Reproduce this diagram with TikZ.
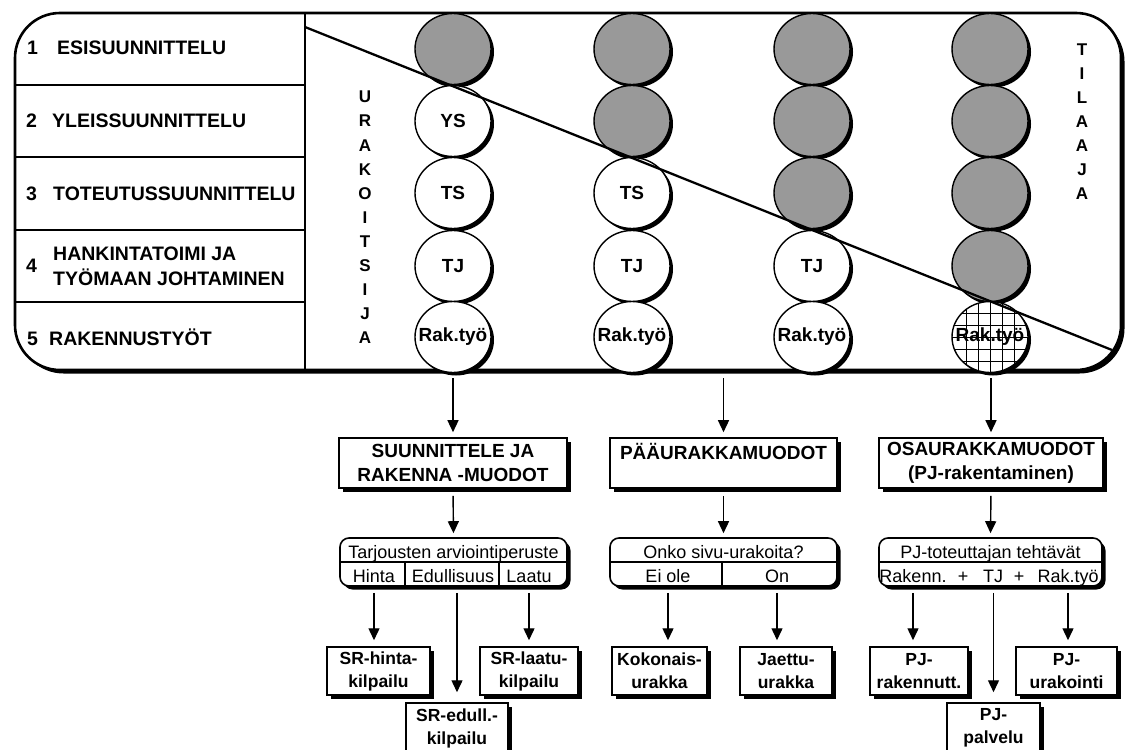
\documentclass[tikz,border=0pt]{standalone}
\usepackage{fontspec}
\setmainfont{Liberation Sans}
\usetikzlibrary{shapes.geometric,shadows,arrows.meta}
\begin{document}
\begin{tikzpicture}[x=1pt,y=-1pt,
 shad/.style={drop shadow={shadow xshift=3.5pt,shadow yshift=-3.5pt,opacity=1,fill=black}},
 eshad/.style={drop shadow={shadow xshift=3pt,shadow yshift=-3pt,opacity=1,fill=black}},
 ell/.style={ellipse,draw,line width=1.4pt,minimum width=76pt,minimum height=71pt,inner sep=0pt,eshad,font=\fontsize{19}{24}\selectfont\bfseries},
 gell/.style={ell,fill=black!40},
 well/.style={ell,fill=white},
 arr/.style={line width=1.4pt,-{Triangle[width=11pt,length=12pt]}},
 hbox/.style={draw,line width=1.6pt,fill=white,shad,align=center,inner sep=0pt,minimum height=50pt,font=\fontsize{19}{24}\selectfont\bfseries},
 sbox/.style={draw,line width=1.6pt,fill=white,shad,rounded corners=9pt,inner sep=0pt,minimum height=48pt},
 lbox/.style={draw,line width=1.5pt,fill=white,shad,align=center,inner sep=0pt,minimum height=48pt,font=\fontsize{17.5}{23}\selectfont\bfseries},
 stx/.style={anchor=base,inner sep=0pt,font=\fontsize{18}{22}\selectfont},
 rowtx/.style={anchor=base west,inner sep=0pt,font=\fontsize{19.5}{25}\selectfont\bfseries},
 vtx/.style={align=center,inner sep=0pt,font=\fontsize{17}{24.1}\selectfont\bfseries},
 tline/.style={line width=1.6pt},
]
\useasboundingbox (0,0) rectangle (1131,749);
\clip (0,0) rectangle (1131,749);
\fill[white] (0,0) rectangle (1131,749);

% outer frame
\node[draw,line width=2.6pt,fill=white,rounded corners=45pt,minimum width=1106pt,minimum height=357pt,inner sep=0pt,
  drop shadow={shadow xshift=3.5pt,shadow yshift=-3.5pt,opacity=1,fill=black}] (outer) at (568,191.5) {};

% table
\coordinate (vt) at (305,13);
\coordinate (vb) at (305,370);
\draw[tline] (vt) -- (vb);
\foreach \y in {85,157,230,302} \draw[tline] (15,\y) -- (305,\y);

\node[rowtx] (n1) at (27,55) {1};
\node[rowtx] (r1) at (57,55) {ESISUUNNITTELU};
\node[rowtx] (n2) at (26,128) {2};
\node[rowtx] (r2) at (52,128) {YLEISSUUNNITTELU};
\node[rowtx] (n3) at (26,200) {3};
\node[rowtx] (r3) at (53,200) {TOTEUTUSSUUNNITTELU};
\node[rowtx] (n4) at (26,272) {4};
\node[rowtx] (r4a) at (53,260) {HANKINTATOIMI JA};
\node[rowtx] (r4b) at (53,285) {TYÖMAAN JOHTAMINEN};
\node[rowtx] (n5) at (27,345) {5};
\node[rowtx] (r5) at (49,345) {RAKENNUSTYÖT};

% column 1
\node[gell] (a1) at (453,49) {};
\node[well] (a2) at (453,121) {YS};
\node[well] (a3) at (453,193) {TS};
\node[well] (a4) at (453,266) {TJ};
\node[well] (a5) at (453,337) {\makebox[0pt]{Rak.työ}};
% column 2
\node[gell] (b1) at (632,49) {};
\node[gell] (b2) at (632,121) {};
\node[well] (b3) at (632,193) {TS};
\node[well] (b4) at (632,266) {TJ};
\node[well] (b5) at (632,337) {\makebox[0pt]{Rak.työ}};
% column 3
\node[gell] (c1) at (812,49) {};
\node[gell] (c2) at (812,121) {};
\node[gell] (c3) at (812,193) {};
\node[well] (c4) at (812,266) {TJ};
\node[well] (c5) at (812,337) {\makebox[0pt]{Rak.työ}};
% column 4
\node[gell] (d1) at (990,49) {};
\node[gell] (d2) at (990,121) {};
\node[gell] (d3) at (990,193) {};
\node[gell] (d4) at (990,266) {};
\node[well,path picture={
  \foreach \d in {-24,-12,0,12,24}{
    \draw[line width=1pt] ([xshift=\d pt]path picture bounding box.north) -- ([xshift=\d pt]path picture bounding box.south);
    \draw[line width=1pt] ([yshift=\d pt]path picture bounding box.west) -- ([yshift=\d pt]path picture bounding box.east);
  }}] (d5) at (990,337) {\makebox[0pt]{Rak.työ}};

% diagonal
\coordinate (dA) at (305,27);
\coordinate (dB) at (1112,350);
\draw[line width=2.3pt] (dA) -- (dB);

% vertical words
\node[vtx] (urak) at (365,217.5) {U\\R\\A\\K\\O\\I\\T\\S\\I\\J\\A};
\node[vtx] (tilaaja) at (1082,121.5) {T\\I\\L\\A\\A\\J\\A};

% headings
\node[hbox,minimum width=228pt] (h1) at (453,463) {SUUNNITTELE JA\\RAKENNA -MUODOT};
\node[hbox,minimum width=227pt] (h2) at (723.5,463) {PÄÄURAKKAMUODOT\\\mbox{}};
\node[hbox,minimum width=224pt] (h3) at (991,463) {OSAURAKKAMUODOT\\(PJ-rakentaminen)};

% split boxes
\node[sbox,minimum width=227pt] (s1) at (453.5,562) {};
\draw[line width=1.3pt] (s1.west) -- (s1.east);
\draw[line width=1.3pt] (405,562) -- (405,586);
\draw[line width=1.3pt] (499,562) -- (499,586);
\node[stx] (t1) at (453.5,558) {Tarjousten arviointiperuste};
\node[stx] (t1a) at (374,582) {Hinta};
\node[stx] (t1b) at (453,582) {Edullisuus};
\node[stx] (t1c) at (529,582) {Laatu};

\node[sbox,minimum width=227pt] (s2) at (723.5,562) {};
\draw[line width=1.3pt] (s2.west) -- (s2.east);
\draw[line width=1.3pt] (722,562) -- (722,586);
\node[stx] (t2) at (723.5,558) {Onko sivu-urakoita?};
\node[stx] (t2a) at (668,582) {Ei ole};
\node[stx] (t2b) at (777,582) {On};

\node[sbox,minimum width=223pt] (s3) at (990.5,562) {};
\draw[line width=1.3pt] (s3.west) -- (s3.east);
\node[stx] (t3) at (990.5,558) {PJ-toteuttajan tehtävät};
\node[stx] (t3a) at (913,582) {Rakenn.};
\node[stx] (t3p) at (963,582) {+};
\node[stx] (t3b) at (993,582) {TJ};
\node[stx] (t3q) at (1019,582) {+};
\node[stx] (t3c) at (1068,582) {Rak.työ};

% leaves
\node[lbox,minimum width=103pt] (l1) at (378.5,671) {SR-hinta-\\kilpailu};
\node[lbox,minimum width=98pt] (l2) at (529,671) {SR-laatu-\\kilpailu};
\node[lbox,minimum width=102pt,minimum height=50pt] (l3) at (457,728) {SR-edull.-\\kilpailu};
\node[lbox,minimum width=95pt] (l4) at (659.5,671) {Kokonais-\\urakka};
\node[lbox,minimum width=92pt] (l5) at (786,671) {Jaettu-\\urakka};
\node[lbox,minimum width=98pt] (l6) at (919,671) {PJ-\\rakennutt.};
\node[lbox,minimum width=101pt] (l7) at (1066.5,671) {PJ-\\urakointi};
\node[lbox,minimum width=93pt,minimum height=50pt] (l8) at (993.5,728) {PJ-\\palvelu};

% arrows
\foreach \h in {h1,h2,h3}
  \draw[arr,shorten <=7pt,shorten >=5pt] (outer.south -| \h.north) -- (\h.north);
\draw[arr,shorten <=7pt,shorten >=4pt] (h1.south) -- (s1.north);
\draw[arr,shorten <=7pt,shorten >=4pt] (h2.south) -- (s2.north);
\draw[arr,shorten <=7pt,shorten >=4pt] (h3.south) -- (s3.north);

\draw[arr,shorten <=6pt,shorten >=6pt] (t1a |- s1.south) -- (t1a |- l1.north);
\draw[arr,shorten <=6pt,shorten >=10pt] (l3.north |- s1.south) -- (l3.north);
\draw[arr,shorten <=6pt,shorten >=6pt] (t1c |- s1.south) -- (t1c |- l2.north);
\draw[arr,shorten <=6pt,shorten >=6pt] (t2a |- s2.south) -- (t2a |- l4.north);
\draw[arr,shorten <=6pt,shorten >=6pt] (t2b |- s2.south) -- (t2b |- l5.north);
\draw[arr,shorten <=6pt,shorten >=6pt] (t3a |- s3.south) -- (t3a |- l6.north);
\draw[arr,shorten <=6pt,shorten >=10pt] (l8.north |- s3.south) -- (l8.north);
\draw[arr,shorten <=6pt,shorten >=6pt] (t3c |- s3.south) -- (t3c |- l7.north);
\end{tikzpicture}
\end{document}
